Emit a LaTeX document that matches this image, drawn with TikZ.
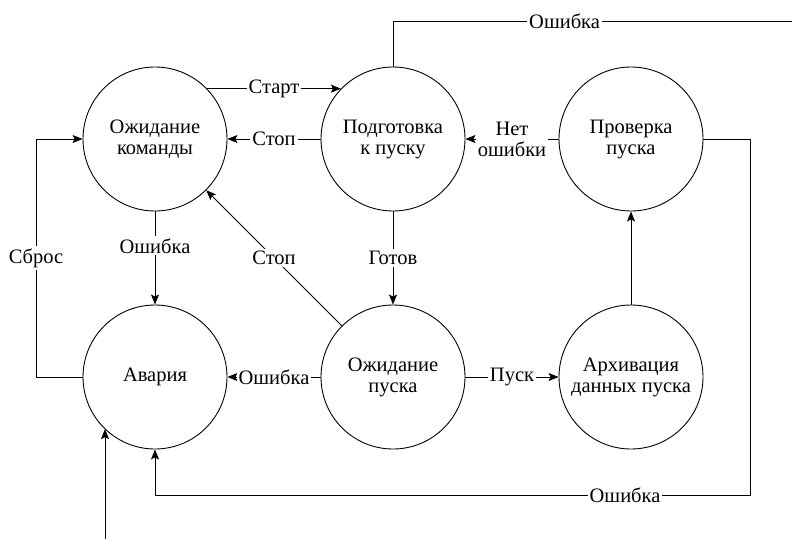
\documentclass[tikz,border=0pt]{standalone}
\usepackage{fontspec}
\setmainfont{Liberation Serif}
\newfontfamily\tnr{Liberation Serif}
\usetikzlibrary{arrows.meta}
\begin{document}
\begin{tikzpicture}[x=1pt,y=-1pt,
 state/.style={circle,draw,line width=0.9pt,minimum size=144pt,inner sep=0pt,align=center,font=\tnr\fontsize{20.5}{21}\selectfont},
 conn/.style={line width=0.9pt},
 arr/.style={conn,-{Stealth[length=10pt,width=8pt,inset=2pt]}},
 lbl/.style={fill=white,inner sep=2pt,font=\tnr\fontsize{20.5}{21}\selectfont,align=center}]
\useasboundingbox[fill=white] (0,0) rectangle (792,539);
\node[state] (ozhk) at (155,139) {Ожидание\\команды};
\node[state] (podg) at (393,139) {Подготовка\\к пуску};
\node[state] (prov) at (631,139) {Проверка\\пуска};
\node[state] (avar) at (155,377) {Авария};
\node[state] (ozhp) at (393,377) {Ожидание\\пуска};
\node[state] (arch) at (631,377) {Архивация\\данных пуска};
\coordinate (topend) at (792,21);
\coordinate (br) at (750,495);
\coordinate (sb) at (36,377);
\coordinate (bin) at (105,539);
\draw[arr] (ozhk.44) -- node[lbl]{Старт} (podg.136);
\draw[arr] (podg.west) -- node[lbl]{Стоп} (ozhk.east);
\draw[arr] (prov.west) -- node[lbl]{Нет\\ошибки} (podg.east);
\draw[arr] (podg.south) -- node[lbl]{Готов} (ozhp.north);
\draw[arr] (ozhk.south) -- node[lbl,pos=0.37]{Ошибка} (avar.north);
\draw[arr] (ozhp.135) -- node[lbl]{Стоп} (ozhk.-45);
\draw[arr] (ozhp.west) -- node[lbl]{Ошибка} (avar.east);
\draw[arr] (ozhp.east) -- node[lbl]{Пуск} (arch.west);
\draw[arr] (arch.north) -- (prov.south);
\draw[conn] (podg.north) -- (podg.north |- topend) -- node[lbl,pos=0.43]{Ошибка} (topend);
\draw[arr] (prov.east) -| (br) -- node[lbl,pos=0.21]{Ошибка} (br -| avar) -- (avar.south);
\draw[arr] (avar.west) -- (sb) -- node[lbl]{Сброс} (sb |- ozhk) -- (ozhk.west);
\draw[arr] (bin) -- (bin |- avar.226);
\end{tikzpicture}
\end{document}
